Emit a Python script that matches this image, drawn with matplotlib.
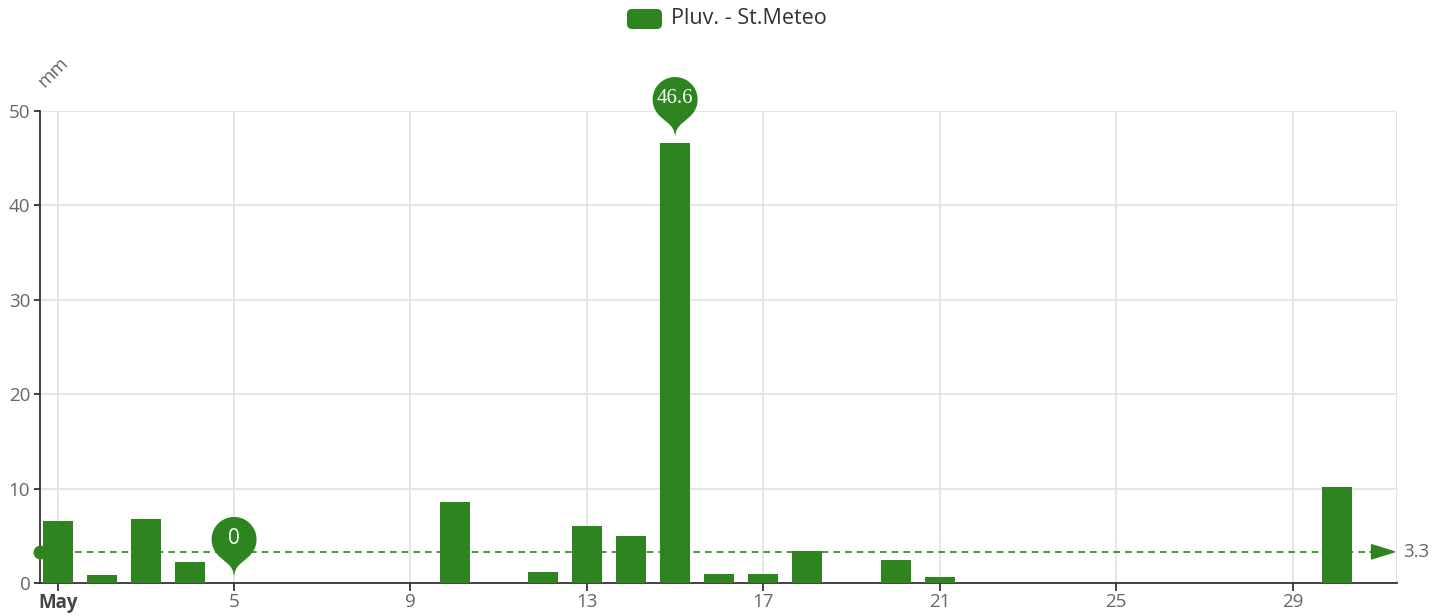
import numpy as np
import matplotlib
matplotlib.use("Agg")
from matplotlib import pyplot as plt
from matplotlib.path import Path
from matplotlib.patches import PathPatch, FancyBboxPatch
from matplotlib.transforms import IdentityTransform

# daily rainfall, May (mm)
days = list(range(1, 32))
rain = [6.6, 0.8, 6.8, 2.2, 0, 0, 0, 0, 0, 8.6, 0, 1.2, 6.0, 5.0, 46.6, 1.0,
        1.0, 3.4, 0, 2.4, 0.6, 0, 0, 0, 0, 0, 0, 0, 0, 10.2, 0]
tick_days = [1, 5, 9, 13, 17, 21, 25, 29]
tick_labels = ["May", "5", "9", "13", "17", "21", "25", "29"]
series_name = "Pluv. - St.Meteo"
unit = "mm"

GREEN = "#2e841f"
GRID = "#e0e0e0"
AXIS = "#333333"
TXT = "#666666"
FONT = "Open Sans"
FS = 13.5

W, H = 1445, 616
fig = plt.figure(figsize=(W / 100, H / 100), dpi=100)
ax = fig.add_axes([40 / W, 1 - 583 / H, (1396.7 - 40) / W, (583 - 111) / H])

ax.bar(days, rain, width=0.68, color=GREEN, zorder=3)
ax.set_xlim(0.6, 31.36)
ax.set_ylim(0, 50)

ax.set_xticks(tick_days)
ax.set_xticklabels(tick_labels, fontsize=FS, color=TXT, family=FONT)
ax.get_xticklabels()[0].set_fontweight("bold")
ax.get_xticklabels()[0].set_color("#444444")
ax.set_yticks(range(0, 51, 10))
ax.set_yticklabels([str(v) for v in range(0, 51, 10)], fontsize=FS,
                   color=TXT, family=FONT)
ax.tick_params(axis="x", length=6, width=1.3, color=AXIS, pad=1)
ax.tick_params(axis="y", length=4, width=1.3, color=AXIS, pad=3)
ax.grid(True, color=GRID, linewidth=1.2, zorder=0)
ax.axvline(ax.get_xlim()[1], color=GRID, linewidth=1.2, zorder=0)
for s in ["top", "right"]:
    ax.spines[s].set_visible(False)
for s in ["left", "bottom"]:
    ax.spines[s].set_color(AXIS)
    ax.spines[s].set_linewidth(1.3)

# mean line
mean = np.mean(rain)
x0, x1 = ax.get_xlim()
ax.plot([x0, x1 - 0.5], [mean, mean], ls=(0, (4, 3)), color=GREEN, lw=1.2,
        zorder=4, clip_on=False)
ax.plot([x0], [mean], "o", color=GREEN, ms=9, zorder=4, clip_on=False)
ax.annotate("", xy=(x1, mean), xytext=(x1 - 0.6, mean),
            arrowprops=dict(arrowstyle="-|>,head_length=1.6,head_width=0.5",
                            color=GREEN, lw=1.2, shrinkA=0, shrinkB=0),
            annotation_clip=False, zorder=4)
ax.annotate(f"{mean:.1f}", xy=(x1, mean), xytext=(5, 0),
            textcoords="offset points", va="center", ha="left",
            fontsize=FS, color=TXT, family=FONT, annotation_clip=False)


def pin(ax, x, y, label, family):
    # ECharts-like pin marker, built in pixels
    tx, ty = ax.transData.transform((x, y))
    ty += 5
    r, h = 22.5, 71.4
    dy = r * r / (h - r)
    cy = ty + h - r - dy
    ang = np.arcsin(dy / r)
    dx = np.cos(ang) * r
    tanx, tany = np.sin(ang), np.cos(ang)
    cp1, cp2 = r * 0.6, r * 0.7
    phi = np.linspace(np.pi + ang, -ang, 60)
    verts = [(tx + r * np.cos(p), cy + r * np.sin(p)) for p in phi]
    codes = [Path.MOVETO] + [Path.LINETO] * (len(verts) - 1)
    verts += [(tx + dx - tanx * cp1, cy - dy - tany * cp1), (tx, ty + cp2), (tx, ty)]
    codes += [Path.CURVE4] * 3
    verts += [(tx, ty + cp2), (tx - dx + tanx * cp1, cy - dy - tany * cp1),
              (tx - dx, cy - dy)]
    codes += [Path.CURVE4] * 3
    verts += [(tx - dx, cy - dy)]
    codes += [Path.CLOSEPOLY]
    patch = PathPatch(Path(verts, codes), facecolor=GREEN, edgecolor="none",
                      transform=IdentityTransform(), clip_on=False, zorder=6)
    ax.add_patch(patch)
    fig.text(tx / W, (cy + 1) / H, label, color="white", fontsize=15,
             ha="center", va="center", family=family, zorder=7)


imax = int(np.argmax(rain))
imin = int(np.argmin(rain))
pin(ax, days[imax], rain[imax], f"{rain[imax]:g}", "Liberation Serif")
pin(ax, days[imin], rain[imin], f"{rain[imin]:g}", FONT)

# unit label
fig.text(53 / W, 1 - 72 / H, unit, rotation=45, ha="center", va="center",
         fontsize=FS, color=TXT, family=FONT)

# legend
fig.patches.append(FancyBboxPatch((627, H - 29), 35, 20,
                                  boxstyle="round,pad=0,rounding_size=5",
                                  facecolor=GREEN, edgecolor="none",
                                  transform=IdentityTransform()))
fig.text(671 / W, 1 - 19 / H, series_name, ha="left", va="center",
         fontsize=15.5, color="#333333", family=FONT)

fig.savefig("out.png", dpi=100)
